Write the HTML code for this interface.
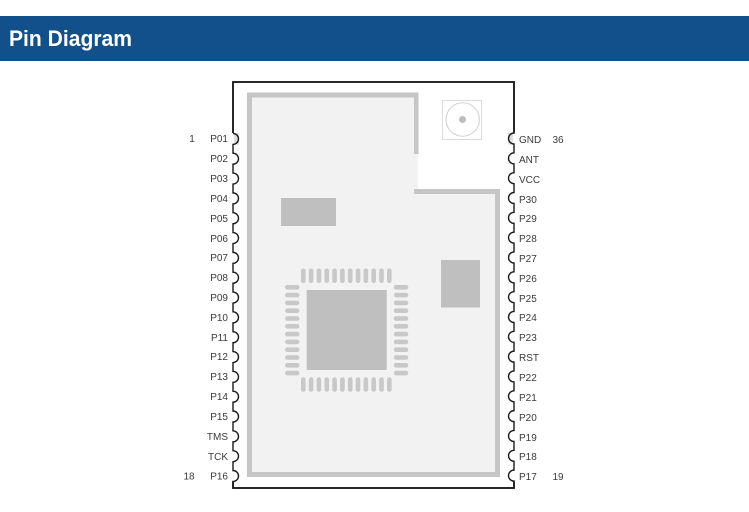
<!DOCTYPE html>
<html>
<head>
<meta charset="utf-8">
<style>
html,body{margin:0;padding:0;background:#fff;width:749px;height:512px;overflow:hidden}
svg{display:block}
text{font-family:"Liberation Sans",sans-serif;font-size:10px;fill:#3a3a3a}
.l{text-anchor:end}
.n{text-anchor:middle}
</style>
</head>
<body>
<svg width="749" height="512" viewBox="0 0 749 512" xmlns="http://www.w3.org/2000/svg">
<rect x="0" y="16" width="749" height="45" fill="#11508a"/>
<text x="9" y="46" style="font-size:22px;font-weight:bold;fill:#fff" textLength="123" lengthAdjust="spacingAndGlyphs">Pin Diagram</text>

<!-- board -->
<path d="M247 92.5H418.500V154H418V189H414V97.500H252V472H495V194H414V189H500V477H247Z" fill="#c6c6c6"/>
<rect x="414" y="154" width="4.500" height="35" fill="#fff"/>
<path d="M252 97.500H414V154H417.800V189H414V194H495V472H252Z" fill="#f2f2f2"/>

<!-- antenna -->
<rect x="442.500" y="100.500" width="39" height="39" fill="#fff" stroke="#dcdcdc" stroke-width="1"/>
<circle cx="462.700" cy="119.500" r="16.700" fill="#fff" stroke="#cfcfcf" stroke-width="1"/>
<circle cx="462.500" cy="119.500" r="3.500" fill="#bdbdbd"/>

<!-- blocks -->
<rect x="281" y="198" width="55" height="28" fill="#bfbfbf"/>
<rect x="441" y="260" width="39" height="47.500" fill="#bfbfbf"/>
<rect x="306.700" y="290" width="80" height="80" fill="#bfbfbf"/>

<defs>
<g id="h" fill="#c8c8c8">
<rect x="0" y="0" width="4.600" height="14.500" rx="2.300"/>
<rect x="7.820" y="0" width="4.600" height="14.500" rx="2.300"/>
<rect x="15.640" y="0" width="4.600" height="14.500" rx="2.300"/>
<rect x="23.460" y="0" width="4.600" height="14.500" rx="2.300"/>
<rect x="31.280" y="0" width="4.600" height="14.500" rx="2.300"/>
<rect x="39.100" y="0" width="4.600" height="14.500" rx="2.300"/>
<rect x="46.920" y="0" width="4.600" height="14.500" rx="2.300"/>
<rect x="54.740" y="0" width="4.600" height="14.500" rx="2.300"/>
<rect x="62.560" y="0" width="4.600" height="14.500" rx="2.300"/>
<rect x="70.380" y="0" width="4.600" height="14.500" rx="2.300"/>
<rect x="78.200" y="0" width="4.600" height="14.500" rx="2.300"/>
<rect x="86.020" y="0" width="4.600" height="14.500" rx="2.300"/>
</g>
<g id="v" fill="#c8c8c8">
<rect x="0" y="0" width="14.500" height="4.600" rx="2.300"/>
<rect x="0" y="7.800" width="14.500" height="4.600" rx="2.300"/>
<rect x="0" y="15.600" width="14.500" height="4.600" rx="2.300"/>
<rect x="0" y="23.400" width="14.500" height="4.600" rx="2.300"/>
<rect x="0" y="31.200" width="14.500" height="4.600" rx="2.300"/>
<rect x="0" y="39" width="14.500" height="4.600" rx="2.300"/>
<rect x="0" y="46.800" width="14.500" height="4.600" rx="2.300"/>
<rect x="0" y="54.600" width="14.500" height="4.600" rx="2.300"/>
<rect x="0" y="62.400" width="14.500" height="4.600" rx="2.300"/>
<rect x="0" y="70.200" width="14.500" height="4.600" rx="2.300"/>
<rect x="0" y="78" width="14.500" height="4.600" rx="2.300"/>
<rect x="0" y="85.800" width="14.500" height="4.600" rx="2.300"/>
</g>
</defs>
<use href="#h" x="301" y="268.500"/>
<use href="#h" x="301" y="377.300"/>
<use href="#v" x="285" y="285"/>
<use href="#v" x="393.800" y="285"/>

<!-- pin 1 markers -->
<rect x="234" y="133" width="5" height="11.500" fill="#dedede"/>
<rect x="508" y="133" width="5" height="11.500" fill="#dedede"/>

<!-- outline -->
<path fill="none" stroke="#1a1a1a" stroke-width="1.400" d="M233 133 V82 H514 V133
a5.500 5.500 0 0 0 0 11 v8.830
a5.500 5.500 0 0 0 0 11 v8.830
a5.500 5.500 0 0 0 0 11 v8.830
a5.500 5.500 0 0 0 0 11 v8.830
a5.500 5.500 0 0 0 0 11 v8.830
a5.500 5.500 0 0 0 0 11 v8.830
a5.500 5.500 0 0 0 0 11 v8.830
a5.500 5.500 0 0 0 0 11 v8.830
a5.500 5.500 0 0 0 0 11 v8.830
a5.500 5.500 0 0 0 0 11 v8.830
a5.500 5.500 0 0 0 0 11 v8.830
a5.500 5.500 0 0 0 0 11 v8.830
a5.500 5.500 0 0 0 0 11 v8.830
a5.500 5.500 0 0 0 0 11 v8.830
a5.500 5.500 0 0 0 0 11 v8.830
a5.500 5.500 0 0 0 0 11 v8.830
a5.500 5.500 0 0 0 0 11 v8.830
a5.500 5.500 0 0 0 0 11 V488 H233 V481.500
a5.500 5.500 0 0 0 0 -11 v-8.830
a5.500 5.500 0 0 0 0 -11 v-8.830
a5.500 5.500 0 0 0 0 -11 v-8.830
a5.500 5.500 0 0 0 0 -11 v-8.830
a5.500 5.500 0 0 0 0 -11 v-8.830
a5.500 5.500 0 0 0 0 -11 v-8.830
a5.500 5.500 0 0 0 0 -11 v-8.830
a5.500 5.500 0 0 0 0 -11 v-8.830
a5.500 5.500 0 0 0 0 -11 v-8.830
a5.500 5.500 0 0 0 0 -11 v-8.830
a5.500 5.500 0 0 0 0 -11 v-8.830
a5.500 5.500 0 0 0 0 -11 v-8.830
a5.500 5.500 0 0 0 0 -11 v-8.830
a5.500 5.500 0 0 0 0 -11 v-8.830
a5.500 5.500 0 0 0 0 -11 v-8.830
a5.500 5.500 0 0 0 0 -11 v-8.830
a5.500 5.500 0 0 0 0 -11 v-8.830
a5.500 5.500 0 0 0 0 -11"/>
<path fill="none" stroke="#1a1a1a" stroke-width="1.800" d="M233 133V82H514V133M514 481.500V488H233V481.500"/>

<!-- left labels -->
<text class="l" x="228" y="142">P01</text>
<text class="l" x="228" y="162">P02</text>
<text class="l" x="228" y="182">P03</text>
<text class="l" x="228" y="202">P04</text>
<text class="l" x="228" y="222">P05</text>
<text class="l" x="228" y="242">P06</text>
<text class="l" x="228" y="261">P07</text>
<text class="l" x="228" y="281">P08</text>
<text class="l" x="228" y="301">P09</text>
<text class="l" x="228" y="321">P10</text>
<text class="l" x="228" y="341">P11</text>
<text class="l" x="228" y="360">P12</text>
<text class="l" x="228" y="380">P13</text>
<text class="l" x="228" y="400">P14</text>
<text class="l" x="228" y="420">P15</text>
<text class="l" x="228" y="440">TMS</text>
<text class="l" x="228" y="460">TCK</text>
<text class="l" x="228" y="479.500">P16</text>
<!-- right labels -->
<text x="519" y="143">GND</text>
<text x="519" y="163">ANT</text>
<text x="519" y="183">VCC</text>
<text x="519" y="203">P30</text>
<text x="519" y="222">P29</text>
<text x="519" y="242">P28</text>
<text x="519" y="262">P27</text>
<text x="519" y="282">P26</text>
<text x="519" y="302">P25</text>
<text x="519" y="321">P24</text>
<text x="519" y="341">P23</text>
<text x="519" y="361">RST</text>
<text x="519" y="381">P22</text>
<text x="519" y="401">P21</text>
<text x="519" y="421">P20</text>
<text x="519" y="441">P19</text>
<text x="519" y="460">P18</text>
<text x="519" y="480">P17</text>

<text class="n" x="192" y="142">1</text>
<text class="n" x="189" y="479.500">18</text>
<text class="n" x="558" y="143">36</text>
<text class="n" x="558" y="480">19</text>
</svg>
</body>
</html>
